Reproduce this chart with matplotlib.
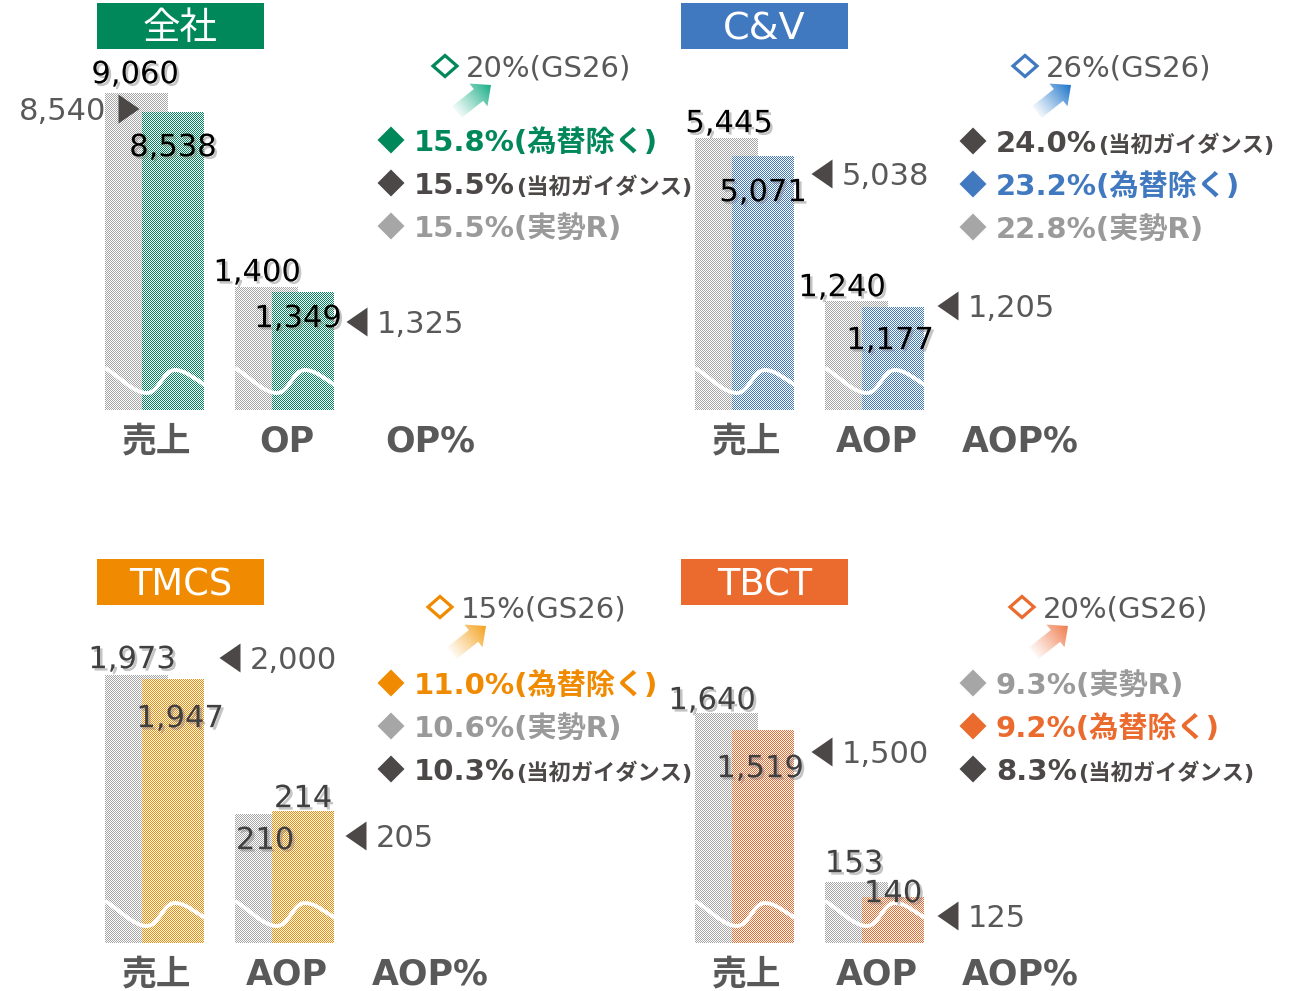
import numpy as np
import matplotlib
matplotlib.use("Agg")
import matplotlib.pyplot as plt
from matplotlib.patches import Polygon, Rectangle, PathPatch
from matplotlib.path import Path
from matplotlib.colors import to_rgb
import matplotlib.patheffects as pe

plt.rcParams['font.family'] = ['DejaVu Sans', 'Noto Sans CJK JP']

# ---------------- data ----------------
segments = ["全社", "C&V", "TMCS", "TBCT"]
profit_names = ["OP", "AOP", "AOP", "AOP"]
sales_prev = [9060, 5445, 1973, 1640]
sales_now = [8538, 5071, 1947, 1519]
sales_guide = [8540, 5038, 2000, 1500]
profit_prev = [1400, 1240, 210, 153]
profit_now = [1349, 1177, 214, 140]
profit_guide = [1325, 1205, 205, 125]
margin_gs26 = [20, 26, 15, 20]
margin_fx_excl = [15.8, 23.2, 11.0, 9.2]
margin_initial = [15.5, 24.0, 10.3, 8.3]
margin_actual_r = [15.5, 22.8, 10.6, 9.3]
margin_tags = ["(為替除く)", "(当初ガイダンス)", "(実勢R)"]

# ---------------- layout / style ----------------
W, H = 1299, 991
colors = ['#00885A', '#4179C0', '#F08A00', '#EB6A2D']
arrow_colors = ['#17AD86', '#1A73C8', '#F4A21C', '#EF7B4C']
DARK = '#4D4848'
GRAY_TXT = '#595959'
LIGHT = '#A6A6A6'
panel_x = [0, 590, 0, 590]
base_y = [410, 410, 943, 943]
title_box = [(97, 3), (681, 3), (97, 559), (681, 559)]
title_size = [27, 27.5, 26.5, 26.5]
sales_lim = [(0, 9440), (0, 6600), (0, 2430), (0, 2357)]
profit_lim = [(0, 3760), (0, 3760), (0, 537), (100, 386)]
val_pos = [
    [(135, 72), (173, 145), (257, 270), (298, 316)],
    [(729, 121), (763, 190), (842, 285), (890, 338)],
    [(132, 657), (180, 716), (265, 838), (303, 796)],
    [(712, 698), (760, 766), (854, 861), (893, 891)],
]
val_color = ['#000000', '#000000', '#404040', '#404040']
sales_guide_pos = [(129, 109, 'right'), (822, 174, 'left'), (230, 658, 'left'), (822, 752, 'left')]
profit_guide_pos = [(357, 322, 'left'), (948, 306, 'left'), (356, 836, 'left'), (948, 916, 'left')]
gs_pos = [(445, 66), (1025, 66), (440, 607), (1022, 607)]
list_x = [391, 973, 391, 973]
list_y0 = [140, 141, 683, 683]
LIST_DY = 43
GH = 330  # pixel height of each bar group axes

fig = plt.figure(figsize=(W / 100, H / 100), dpi=100)
renderer = fig.canvas.get_renderer()
ov = fig.add_axes([0, 0, 1, 1], zorder=5)
ov.set_xlim(0, W)
ov.set_ylim(H, 0)
ov.axis('off')

# pixel layer for the checkered bar fill (drawn 1:1 with figimage)
layer = np.zeros((H, W, 4))


def em(size):
    return size * 100 / 72


def paint_checker(ax, patch, color):
    bb = patch.get_window_extent(renderer)
    ab = ax.bbox
    x0 = int(round(max(bb.x0, ab.x0)))
    x1 = int(round(min(bb.x1, ab.x1)))
    y0 = int(round(max(bb.y0, ab.y0)))
    y1 = int(round(min(bb.y1, ab.y1)))
    r0, r1 = H - y1, H - y0
    if r1 <= r0 or x1 <= x0:
        return
    yy, xx = np.mgrid[r0:r1, x0:x1]
    block = np.ones((r1 - r0, x1 - x0, 4))
    block[(xx + yy) % 2 == 0, :3] = to_rgb(color)
    layer[r0:r1, x0:x1] = block


def bar_group(x0, base, prev, now, lim, color):
    ax = fig.add_axes([x0 / W, 1 - base / H, 100 / W, GH / H], zorder=1)
    ax.axis('off')
    ax.set_xlim(0, 100)
    ax.set_ylim(*lim)
    b1 = ax.bar(0, prev, width=63, align='edge', color='#d6d6d6', linewidth=0, zorder=1)[0]
    b2 = ax.bar(37, now, width=62, align='edge', color=color, linewidth=0, zorder=2)[0]
    paint_checker(ax, b1, LIGHT)
    paint_checker(ax, b2, color)
    # white wave (axis break) across the bars
    rel = [(0, -42), (14, -34), (28, -17), (42, -17), (54, -17), (58, -40), (70, -40),
           (80, -40), (90, -31), (100, -25)]
    verts = [(x0 + dx, base + dy) for dx, dy in rel]
    codes = [Path.MOVETO] + [Path.CURVE4] * 9
    ov.add_patch(PathPatch(Path(verts, codes), facecolor='none', edgecolor='white',
                           linewidth=2.8, zorder=2))


def triangle(cx, cy, direction):
    s = -1 if direction == 'left' else 1
    pts = [(cx + s * 10.5, cy), (cx - s * 10.5, cy - 14.5), (cx - s * 10.5, cy + 14.5)]
    ov.add_patch(Polygon(pts, closed=True, facecolor=DARK, edgecolor='none', zorder=4))


def diamond(cx, cy, rx, ry, face, edge='none', lw=0):
    pts = [(cx, cy - ry), (cx + rx, cy), (cx, cy + ry), (cx - rx, cy)]
    ov.add_patch(Polygon(pts, closed=True, facecolor=face, edgecolor=edge,
                         linewidth=lw, joinstyle='miter', zorder=4))


def grad_arrow(tail, tip, color):
    tail = np.array(tail, float)
    tip = np.array(tip, float)
    d = tip - tail
    L = np.hypot(*d)
    u = d / L
    n = np.array([-u[1], u[0]])
    sw, hw, hl = 7.5, 14.5, 16
    neck = tip - u * hl
    pts = [tail + n * sw, neck + n * sw, neck + n * hw, tip, neck - n * hw, neck - n * sw, tail - n * sw]
    poly = Polygon(pts, closed=True, facecolor='none', edgecolor='none')
    ov.add_patch(poly)
    xs = [p[0] for p in pts]
    ys = [p[1] for p in pts]
    x0, x1 = int(min(xs)) - 2, int(max(xs)) + 3
    y0, y1 = int(min(ys)) - 2, int(max(ys)) + 3
    X, Y = np.meshgrid(np.arange(x0, x1) + 0.5, np.arange(y0, y1) + 0.5)
    t = np.clip(((X - tail[0]) * u[0] + (Y - tail[1]) * u[1]) / L, 0, 1)
    rgba = np.zeros(X.shape + (4,))
    rgba[..., :3] = to_rgb(color)
    rgba[..., 3] = 0.06 + 0.94 * t ** 1.1
    im = ov.imshow(rgba, extent=(x0, x1, y1, y0), origin='upper', aspect='auto',
                   interpolation='bilinear', zorder=3)
    im.set_clip_path(poly)


shadow = [pe.withSimplePatchShadow(offset=(1.8, -1.8), shadow_rgbFace='#808080', alpha=0.45)]

for i in range(4):
    c = colors[i]
    px = panel_x[i]
    base = base_y[i]

    # title box
    bx, by = title_box[i]
    ov.add_patch(Rectangle((bx, by), 167, 46, facecolor=c, edgecolor='none', zorder=3))
    ov.text(bx + 83.5, by + 23 + 13, segments[i], color='white', fontsize=title_size[i],
            ha='center', va='baseline', zorder=4)

    # bars
    bar_group(105 + px, base, sales_prev[i], sales_now[i], sales_lim[i], c)
    bar_group(235 + px, base, profit_prev[i], profit_now[i], profit_lim[i], c)

    # value labels
    vals = [sales_prev[i], sales_now[i], profit_prev[i], profit_now[i]]
    for v, (x, y) in zip(vals, val_pos[i]):
        ov.text(x, y + 0.365 * em(22), f"{v:,}", fontsize=22, color=val_color[i],
                ha='center', va='baseline', path_effects=shadow, zorder=6)

    # guidance markers
    for v, (x, y, dr) in [(sales_guide[i], sales_guide_pos[i]), (profit_guide[i], profit_guide_pos[i])]:
        triangle(x, y, dr)
        if dr == 'left':
            ov.text(x + 20, y + 0.365 * em(22), f"{v:,}", fontsize=22, color=GRAY_TXT,
                    ha='left', va='baseline', zorder=6)
        else:
            ov.text(x - 23, y + 0.365 * em(22), f"{v:,}", fontsize=22, color=GRAY_TXT,
                    ha='right', va='baseline', zorder=6)

    # category labels
    cats = ["売上", profit_names[i], profit_names[i] + "%"]
    for cx, lab in zip([157, 287, 430], cats):
        ov.text(cx + px, base + 41.5, lab, fontsize=25, fontweight='bold', color=GRAY_TXT,
                ha='center', va='baseline', zorder=6)

    # GS26 target + arrow
    gx, gy = gs_pos[i]
    diamond(gx, gy, 12, 10.5, 'white', c, 2.3)
    ov.text(gx + 21, gy + 0.365 * em(21), f"{margin_gs26[i]}%(GS26)", fontsize=21,
            color=GRAY_TXT, ha='left', va='baseline', zorder=6)
    grad_arrow((gx + 12, gy + 46), (gx + 46, gy + 19), arrow_colors[i])

    # margin list
    entries = [(margin_fx_excl[i], 0, c, c), (margin_initial[i], 1, DARK, DARK),
               (margin_actual_r[i], 2, LIGHT, '#9A9A9A')]
    entries = sorted(entries, key=lambda e: -e[0])
    for k, (val, tag, dcol, tcol) in enumerate(entries):
        y = list_y0[i] + k * LIST_DY
        diamond(list_x[i], y, 13.5, 13.5, dcol)
        yb = y + 0.365 * em(21)
        if tag == 1:
            t = ov.text(list_x[i] + 23, yb, f"{val:.1f}%", fontsize=21, fontweight='bold',
                        color=tcol, ha='left', va='baseline', zorder=6)
            bb = t.get_window_extent(renderer)
            xe = ov.transData.inverted().transform((bb.x1, 0))[0]
            ov.text(xe + 1, yb, margin_tags[tag], fontsize=16, fontweight='bold',
                    color=tcol, ha='left', va='baseline', zorder=6)
        else:
            ov.text(list_x[i] + 23, yb, f"{val:.1f}%" + margin_tags[tag], fontsize=21,
                    fontweight='bold', color=tcol, ha='left', va='baseline', zorder=6)

fig.figimage(layer, xo=0, yo=0, origin='upper', zorder=2)
ov.set_xlim(0, W)
ov.set_ylim(H, 0)
fig.savefig("out.png", dpi=100)
